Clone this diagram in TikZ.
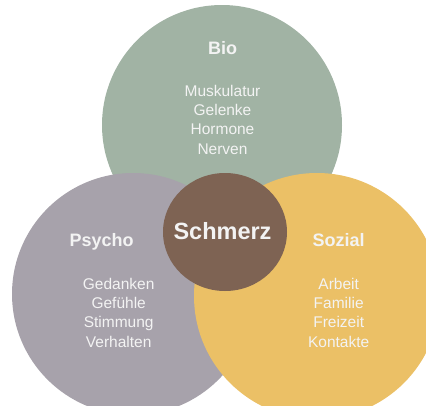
\documentclass[tikz,border=0pt]{standalone}
\usepackage{fontspec}
\usetikzlibrary{shapes.geometric}
\setmainfont{Liberation Sans}
\definecolor{biocol}{HTML}{A1B3A4}
\definecolor{psycol}{HTML}{A7A2AB}
\definecolor{sozcol}{HTML}{EBC066}
\definecolor{schcol}{HTML}{7E6353}
\definecolor{txtcol}{HTML}{F3F3F3}
\tikzset{
  blob/.style={circle, inner sep=0pt, draw=none},
  head/.style={anchor=base, text=txtcol, font=\fontsize{18}{20}\selectfont\bfseries, inner sep=0pt},
  item/.style={anchor=base, text=txtcol, font=\fontsize{15.5}{18}\selectfont, inner sep=0pt},
}
\begin{document}
\begin{tikzpicture}[x=1pt,y=-1pt]
\useasboundingbox (0,0) rectangle (426,405);
\clip (0,0) rectangle (426,405);
\node[blob, fill=biocol, minimum size=240pt] (bio) at (222,125) {};
\node[blob, fill=psycol, minimum size=242pt] (psy) at (133,294) {};
\node[blob, fill=sozcol, minimum size=246pt] (soz) at (317,296) {};
\node[ellipse, inner sep=0pt, fill=schcol, minimum width=124pt, minimum height=118pt] (sch) at (225,232) {};
\node[anchor=base, text=txtcol, font=\fontsize{23.5}{26}\selectfont\bfseries, inner sep=0pt] (schtxt) at (222.5,239) {Schmerz};
\node[head] (biotxt) at (222.5,54) {Bio};
\node[head] (psytxt) at (101.7,246.7) {Psycho};
\node[head] (soztxt) at (338.7,246.7) {Sozial};
\node[item] (b1) at (222.5,96) {Muskulatur};
\node[item] (b2) at (222.5,115.3) {Gelenke};
\node[item] (b3) at (222.5,134.6) {Hormone};
\node[item] (b4) at (222.5,154) {Nerven};
\node[item] (p1) at (118.7,289) {Gedanken};
\node[item] (p2) at (118.7,308.3) {Gefühle};
\node[item] (p3) at (118.7,327.6) {Stimmung};
\node[item] (p4) at (118.7,347) {Verhalten};
\node[item] (s1) at (338.7,289) {Arbeit};
\node[item] (s2) at (338.7,308.3) {Familie};
\node[item] (s3) at (338.7,327.6) {Freizeit};
\node[item] (s4) at (338.7,347) {Kontakte};
\end{tikzpicture}
\end{document}
